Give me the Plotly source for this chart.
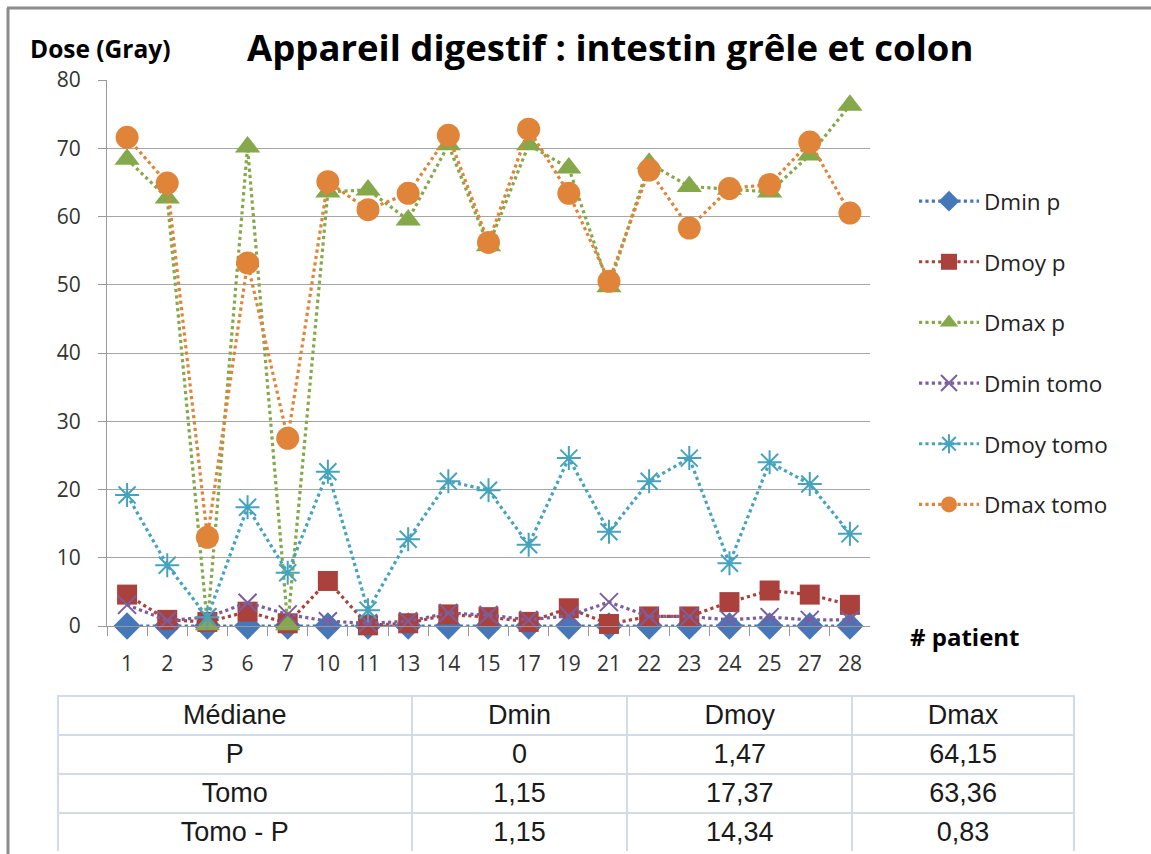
import plotly.graph_objects as go

# Patients (category axis)
patients = ["1", "2", "3", "6", "7", "10", "11", "13", "14", "15",
            "17", "19", "21", "22", "23", "24", "25", "27", "28"]

# Doses in Gray
dmin_p = [0, 0, 0, 0, 0, 0, 0, 0, 0, 0, 0, 0, 0, 0, 0, 0, 0, 0, 0]
dmoy_p = [4.6, 0.9, 0.6, 2.1, 0.4, 6.6, 0.1, 0.4, 1.7, 1.3,
          0.6, 2.6, 0.3, 1.4, 1.4, 3.5, 5.2, 4.6, 3.1]
dmax_p = [68.4, 62.7, 0.2, 70.2, 0.2, 63.6, 63.9, 59.5, 70.5, 55.7,
          70.5, 67.1, 49.7, 67.8, 64.4, 64.0, 63.6, 69.0, 76.3]
dmin_tomo = [3.1, 0.8, 1.3, 3.4, 1.7, 0.7, 0.4, 0.7, 1.9, 1.6,
             0.9, 1.5, 3.5, 1.4, 1.4, 0.9, 1.3, 0.9, 0.9]
dmoy_tomo = [19.2, 8.9, 1.3, 17.4, 7.8, 22.6, 2.3, 12.7, 21.2, 19.9,
             11.9, 24.6, 13.8, 21.2, 24.6, 9.2, 24.0, 20.8, 13.5]
dmax_tomo = [71.6, 64.9, 13.0, 53.2, 27.5, 65.1, 61.0, 63.4, 71.9, 56.2,
             72.8, 63.4, 50.5, 66.8, 58.3, 64.1, 64.7, 70.9, 60.5]

y_ticks = [0, 10, 20, 30, 40, 50, 60, 70, 80]

# Summary table of medians
table_header = ["Médiane", "Dmin", "Dmoy", "Dmax"]
table_rows = ["P", "Tomo", "Tomo - P"]
median_dmin = ["0", "1,15", "1,15"]
median_dmoy = ["1,47", "17,37", "14,34"]
median_dmax = ["64,15", "63,36", "0,83"]

W, H = 1151, 854
FONT = "'Open Sans', Lato, sans-serif"
TABLE_FONT = "'Liberation Sans Narrow', 'Arial Narrow', 'Liberation Sans', sans-serif"

series = [
    ("Dmin p", dmin_p, "#4677B8", dict(symbol="diamond", size=21)),
    ("Dmoy p", dmoy_p, "#AA413D", dict(symbol="square", size=20)),
    ("Dmax p", dmax_p, "#84A84A", dict(symbol="triangle-up", size=22)),
    ("Dmin tomo", dmin_tomo, "#7B5E9F", dict(symbol="x-thin-open", size=18)),
    ("Dmoy tomo", dmoy_tomo, "#45A3BD", dict(symbol="asterisk-open", size=20)),
    ("Dmax tomo", dmax_tomo, "#E0843A", dict(symbol="circle", size=23)),
]

fig = go.Figure()
for i, (name, vals, color, mk) in enumerate(series):
    marker = dict(color=color, **mk)
    if mk["symbol"] in ("x-thin-open", "asterisk-open"):
        marker["line"] = dict(color=color, width=2)
    else:
        marker["line"] = dict(width=0)
    fig.add_trace(go.Scatter(
        x=patients, y=vals, name=name, mode="lines+markers",
        line=dict(color=color, width=3.2, dash="dot"),
        marker=marker, legendgroup=f"g{i}", cliponaxis=False,
    ))

fig.add_trace(go.Table(
    domain=dict(x=[58 / W, 1075 / W], y=[1 - 852 / H, 1 - 696 / H]),
    columnwidth=[354, 216, 225, 222],
    header=dict(
        values=table_header, height=39, align="center",
        fill_color="white", line=dict(color="#D3DAE8", width=2),
        font=dict(family=TABLE_FONT, size=27, color="#1a1a1a"),
    ),
    cells=dict(
        values=[table_rows, median_dmin, median_dmoy, median_dmax],
        height=39, align="center",
        fill_color="white", line=dict(color="#D3DAE8", width=2),
        font=dict(family=TABLE_FONT, size=27, color="#1a1a1a"),
    ),
))

fig.update_layout(
    width=W, height=H,
    margin=dict(l=0, r=0, t=0, b=0, autoexpand=False),
    paper_bgcolor="white", plot_bgcolor="white",
    font=dict(family=FONT, color="#222"),
    showlegend=True,
    legend=dict(
        x=914 / W, y=1 - 180 / H, xanchor="left", yanchor="top",
        font=dict(family=FONT, size=22.5, color="#222"),
        tracegroupgap=28.4, traceorder="grouped", itemwidth=60,
        bgcolor="rgba(0,0,0,0)",
    ),
    xaxis=dict(
        domain=[107 / W, 870 / W], type="category",
        range=[-0.5, len(patients) - 0.5], automargin=False,
        showline=True, linecolor="#999", linewidth=1,
        ticks="outside", tickson="boundaries", ticklen=9, tickcolor="#999",
        tickfont=dict(family=FONT, size=21, color="#333"),
        ticklabelstandoff=19,
        showgrid=False, zeroline=False, fixedrange=True,
    ),
    yaxis=dict(
        domain=[1 - 626 / H, 1 - 80 / H], range=[0, 80],
        tickvals=y_ticks, automargin=False,
        showline=True, linecolor="#999", linewidth=1,
        ticks="outside", ticklen=8, tickcolor="#999",
        tickfont=dict(family=FONT, size=21, color="#333"),
        ticklabelstandoff=13,
        showgrid=True, gridcolor="#A6A6A6", gridwidth=1,
        zeroline=False, fixedrange=True,
    ),
    annotations=[
        dict(text="<b>Appareil digestif : intestin grêle et colon</b>",
             x=610 / W, y=1 - 47 / H, xref="paper", yref="paper",
             xanchor="center", yanchor="middle", showarrow=False,
             font=dict(family=FONT, size=36.5, color="#000")),
        dict(text="<b>Dose (Gray)</b>",
             x=29 / W, y=1 - 49 / H, xref="paper", yref="paper",
             xanchor="left", yanchor="middle", showarrow=False,
             borderpad=0,
             font=dict(family=FONT, size=24.5, color="#000")),
        dict(text="<b># patient</b>",
             x=908 / W, y=1 - 636 / H, xref="paper", yref="paper",
             xanchor="left", yanchor="middle", showarrow=False,
             font=dict(family=FONT, size=24, color="#000")),
    ],
    shapes=[
        dict(type="line", xref="paper", yref="paper",
             x0=7 / W, x1=1, y0=1 - 8 / H, y1=1 - 8 / H,
             line=dict(color="#8C8C8C", width=3)),
        dict(type="line", xref="paper", yref="paper",
             x0=8 / W, x1=8 / W, y0=0, y1=1 - 8 / H,
             line=dict(color="#8C8C8C", width=3)),
    ],
)

fig.write_html("out.html")
